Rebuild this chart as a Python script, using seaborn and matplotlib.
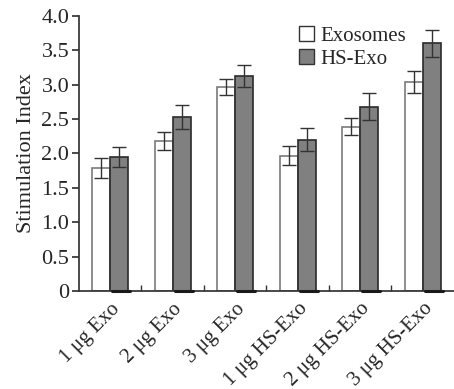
import matplotlib
matplotlib.use("Agg")
import matplotlib.pyplot as plt
import matplotlib.ticker as mticker
import seaborn as sns
import pandas as pd
import numpy as np

# data
groups = ["1 μg Exo", "2 μg Exo", "3 μg Exo",
          "1 μg HS-Exo", "2 μg HS-Exo", "3 μg HS-Exo"]
series = ["Exosomes", "HS-Exo"]
exo_vals = [1.79, 2.18, 2.97, 1.97, 2.39, 3.04]
hs_vals = [1.95, 2.53, 3.12, 2.20, 2.68, 3.60]
exo_err = [0.15, 0.13, 0.12, 0.14, 0.12, 0.16]
hs_err = [0.14, 0.17, 0.16, 0.17, 0.20, 0.19]

df = pd.DataFrame({
    "group": groups * 2,
    "series": [series[0]] * 6 + [series[1]] * 6,
    "value": exo_vals + hs_vals,
})

sns.set_theme(style="ticks")
plt.rcParams["font.family"] = ["Liberation Serif", "DejaVu Serif"]

fig = plt.figure(figsize=(4.54, 3.89), dpi=100)
ax = fig.add_axes([0.174, 0.252, 0.826, 0.707])

sns.barplot(data=df, x="group", y="value", hue="series", order=groups,
            hue_order=series, palette={"Exosomes": "white", "HS-Exo": "#808080"},
            width=0.58, errorbar=None, ax=ax, legend=True)

edge_cols = ["#7a7a7a", "#2a2a2a"]
errs = [exo_err, hs_err]
for i, (cont, ec, err) in enumerate(zip(ax.containers, edge_cols, errs)):
    xs, ys = [], []
    for p in cont:
        p.set_edgecolor(ec)
        p.set_linewidth(1.2)
        xs.append(p.get_x() + p.get_width() / 2)
        ys.append(p.get_height())
        if i == 1:
            # dark base line under the grey bars, as in the original
            ax.plot([p.get_x() + 0.03, p.get_x() + p.get_width() + 0.03], [0, 0],
                    color="#1a1a1a", lw=2.2, clip_on=False, zorder=4)
    ax.errorbar(xs, ys, yerr=err, fmt="none", ecolor="#333333",
                elinewidth=1, capsize=5, capthick=1)

ax.set_ylim(0, 4.0)
ax.set_xlim(-0.5, 5.5)
ax.set_yticks(np.arange(0, 4.01, 0.5))
ax.yaxis.set_major_formatter(mticker.FuncFormatter(
    lambda v, _: "0" if v == 0 else f"{v:.1f}"))
ax.tick_params(axis="y", labelsize=16, length=5, direction="out", color="#333",
               pad=2)
ax.set_xticks(range(len(groups)))
ax.set_xticklabels(groups, rotation=45, ha="right", rotation_mode="anchor",
                   fontsize=15)
ax.tick_params(axis="x", length=0, pad=6)
ax.set_xticks(np.arange(0.5, 5.0, 1.0), minor=True)
ax.tick_params(axis="x", which="minor", direction="in", length=4, color="#333")
ax.set_xlabel("")
ax.set_ylabel("Stimulation Index", fontsize=16, labelpad=4)

for s in ["top", "right"]:
    ax.spines[s].set_visible(False)
ax.spines["left"].set_color("#333")
ax.spines["bottom"].set_color("#333")

leg = ax.legend(loc="upper right", bbox_to_anchor=(0.9, 1.0), frameon=False,
                fontsize=15, handlelength=0.7, handleheight=0.7,
                handletextpad=0.3, labelspacing=0.15, borderaxespad=0.1)
for h in leg.legend_handles:
    h.set_edgecolor("#333")

fig.savefig("out.png", dpi=100)
